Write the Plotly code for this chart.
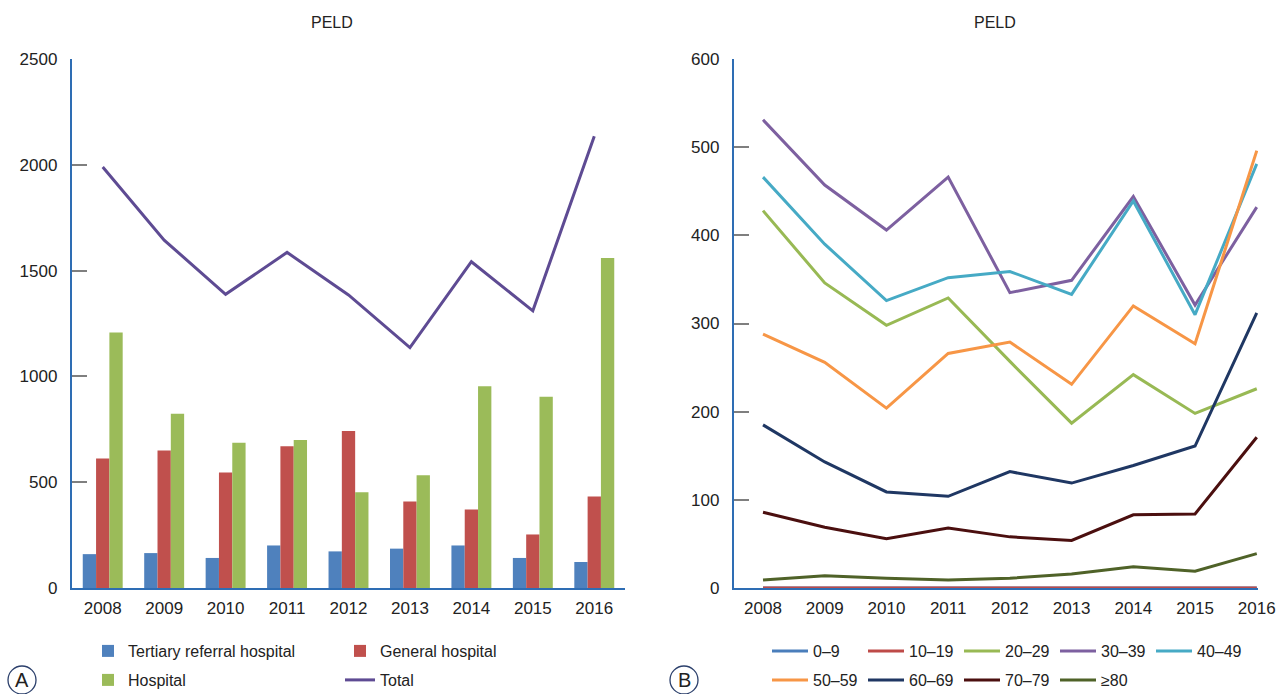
import plotly.graph_objects as go

W, H = 1279, 694

years = ["2008", "2009", "2010", "2011", "2012", "2013", "2014", "2015", "2016"]

# Panel A (counts by hospital type)
tertiary = [160, 165, 142, 201, 173, 186, 201, 142, 123]
general = [612, 650, 546, 670, 742, 409, 371, 253, 433]
hospital = [1208, 824, 687, 700, 453, 533, 953, 904, 1560]
total = [1990, 1644, 1388, 1586, 1385, 1136, 1542, 1310, 2135]
ticks_a = [0, 500, 1000, 1500, 2000, 2500]

# Panel B (counts by age group)
age_labels = ["0–9", "10–19", "20–29", "30–39", "40–49", "50–59", "60–69", "70–79", "≥80"]
age_0_9 = [0, 0, 0, 0, 0, 0, 0, 0, 0]
age_10_19 = [0, 0, 0, 0, 0, 0, 0, 0, 0]
age_20_29 = [428, 346, 298, 329, 257, 187, 242, 198, 226]
age_30_39 = [531, 457, 406, 466, 335, 349, 444, 321, 432]
age_40_49 = [466, 390, 326, 352, 359, 333, 439, 310, 481]
age_50_59 = [288, 256, 204, 266, 279, 231, 320, 277, 496]
age_60_69 = [185, 143, 109, 104, 132, 119, 139, 161, 312]
age_70_79 = [86, 69, 56, 68, 58, 54, 83, 84, 171]
age_80_up = [9, 14, 11, 9, 11, 16, 24, 19, 39]
ticks_b = [0, 100, 200, 300, 400, 500, 600]

age_series = [age_0_9, age_10_19, age_20_29, age_30_39, age_40_49,
              age_50_59, age_60_69, age_70_79, age_80_up]
age_colors = ["#4A7EBB", "#BE4B48", "#98B954", "#7D60A0", "#46AAC5",
              "#F79646", "#1F3763", "#4B0F0F", "#4F6228"]

FONT = "Liberation Sans, Arial, sans-serif"
TXT = "#222222"
AXIS_BLUE = "#2E6DB4"
PAD = "\u00a0\u00a0"

def px_x(p):
    return p / W

def px_y(p):
    return 1 - p / H

fig = go.Figure()

bar_specs = [("Tertiary referral hospital", tertiary, "#4F81BD", "legend"),
             ("General hospital", general, "#C0504D", "legend"),
             ("Hospital", hospital, "#9BBB59", "legend2")]
for name, vals, col, lg in bar_specs:
    fig.add_trace(go.Bar(x=years, y=vals, name=name, marker=dict(color=col, line=dict(width=0)),
                         xaxis="x", yaxis="y", legend=lg))

fig.add_trace(go.Scatter(x=years, y=total, name="Total", mode="lines",
                         line=dict(color="#5E4B93", width=3), xaxis="x", yaxis="y",
                         legend="legend2"))

for i, (lab, vals, col) in enumerate(zip(age_labels, age_series, age_colors)):
    fig.add_trace(go.Scatter(x=years, y=vals, name=lab, mode="lines",
                             line=dict(color=col, width=3), xaxis="x2", yaxis="y2",
                             legend="legend3" if i < 5 else "legend4"))

axis_common = dict(showgrid=False, zeroline=False, showline=True, linecolor=AXIS_BLUE,
                   automargin=False,
                   tickfont=dict(family=FONT, size=17, color=TXT))

leg_font = dict(family=FONT, size=16, color=TXT)

fig.update_layout(
    width=W, height=H, autosize=False,
    margin=dict(l=0, r=0, t=0, b=0, autoexpand=False),
    paper_bgcolor="white", plot_bgcolor="white",
    font=dict(family=FONT, size=16, color=TXT),
    barmode="group", bargap=0.35, bargroupgap=0.0,
    xaxis=dict(domain=[px_x(72), px_x(625)], anchor="y", type="category",
               range=[-0.5, 8.5], ticks="", linewidth=2, ticklabelstandoff=4, **axis_common),
    yaxis=dict(domain=[px_y(588), px_y(59)], anchor="x", range=[0, 2500],
               tickmode="array", tickvals=ticks_a, ticktext=[f"{v}{PAD}" for v in ticks_a],
               ticks="inside", ticklen=15,
               tickcolor="#7F7F7F", tickwidth=1.5, linewidth=1.5,
               **axis_common),
    xaxis2=dict(domain=[px_x(734), px_x(1258)], anchor="y2", type="category",
                range=[-0.47, 8.02], ticks="", linewidth=2, ticklabelstandoff=4, **axis_common),
    yaxis2=dict(domain=[px_y(588), px_y(59)], anchor="x2", range=[0, 600],
                tickmode="array", tickvals=ticks_b, ticktext=[f"{v}{PAD}" for v in ticks_b],
                ticks="inside", ticklen=15,
                tickcolor="#7F7F7F", tickwidth=1.5, linewidth=1.5,
                **axis_common),
    legend=dict(orientation="h", x=px_x(88), y=px_y(651), xanchor="left", yanchor="middle",
                entrywidth=207, itemwidth=30, font=leg_font,
                bgcolor="rgba(0,0,0,0)", traceorder="normal"),
    legend2=dict(orientation="h", x=px_x(88), y=px_y(680), xanchor="left", yanchor="middle",
                 entrywidth=207, itemwidth=30, font=leg_font,
                 bgcolor="rgba(0,0,0,0)", traceorder="normal"),
    legend3=dict(orientation="h", x=px_x(767), y=px_y(651), xanchor="left", yanchor="middle",
                 entrywidth=45, itemwidth=36, font=leg_font,
                 bgcolor="rgba(0,0,0,0)", traceorder="normal"),
    legend4=dict(orientation="h", x=px_x(767), y=px_y(680), xanchor="left", yanchor="middle",
                 entrywidth=45, itemwidth=36, font=leg_font,
                 bgcolor="rgba(0,0,0,0)", traceorder="normal"),
    annotations=[
        dict(text="PELD", x=px_x(332), y=px_y(22), xref="paper", yref="paper",
             xanchor="center", yanchor="middle",
             showarrow=False, font=dict(family=FONT, size=16, color=TXT)),
        dict(text="PELD", x=px_x(995), y=px_y(22), xref="paper", yref="paper",
             xanchor="center", yanchor="middle",
             showarrow=False, font=dict(family=FONT, size=16, color=TXT)),
        dict(text="A", x=px_x(22), y=px_y(680), xref="paper", yref="paper",
             xanchor="center", yanchor="middle",
             showarrow=False, font=dict(family=FONT, size=20, color=TXT)),
        dict(text="B", x=px_x(684), y=px_y(680), xref="paper", yref="paper",
             xanchor="center", yanchor="middle",
             showarrow=False, font=dict(family=FONT, size=20, color=TXT)),
    ],
    shapes=[
        dict(type="circle", xref="paper", yref="paper",
             x0=px_x(8), x1=px_x(36), y0=px_y(694), y1=px_y(666),
             line=dict(color="#2B3F6B", width=1.3)),
        dict(type="circle", xref="paper", yref="paper",
             x0=px_x(670), x1=px_x(698), y0=px_y(694), y1=px_y(666),
             line=dict(color="#2B3F6B", width=1.3)),
    ],
)

fig.write_html("out.html", config={"displayModeBar": False},
               post_script="document.body.style.margin='0';")
